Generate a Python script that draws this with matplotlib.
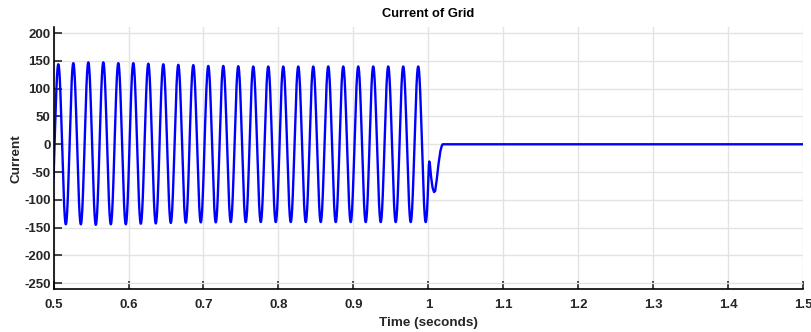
import numpy as np
import matplotlib.pyplot as plt

plt.rcParams['font.family'] = ['Liberation Sans', 'DejaVu Sans']
plt.rcParams['font.weight'] = 'bold'
plt.rcParams['axes.unicode_minus'] = False

# grid current, 50 Hz
freq = 50.0
first_peak = 0.5064
t_break = 1.0
peaks = [144, 146, 147.5, 147.5, 146, 146, 145, 144, 143, 142.5, 141, 141, 140.5,
         140, 140, 140, 140, 140, 140, 140, 140, 140, 140, 140, 140]
troughs = [144, 144, 145, 144, 144, 143, 142.5, 141.5, 141, 140.5, 140.5, 140, 140,
           140, 140, 140, 140, 140, 140, 140, 140, 140, 140, 140, 140]

# transient after the breaker opens
trans_t = [1.0006, 1.0012, 1.0020, 1.0035, 1.0055, 1.0075, 1.0090, 1.0110,
           1.0135, 1.0160, 1.0178, 1.0190, 1.5]
trans_v = [-38, -31, -36, -58, -78, -86, -84, -65, -35, -12, -3, 0, 0]

xticks = [0.5, 0.6, 0.7, 0.8, 0.9, 1.0, 1.1, 1.2, 1.3, 1.4, 1.5]
xticklabels = ['0.5', '0.6', '0.7', '0.8', '0.9', '1', '1.1', '1.2', '1.3', '1.4', '1.5']
yticks = [-250, -200, -150, -100, -50, 0, 50, 100, 150, 200]

# build the steady-state part: each half cycle uses its own extremum
extrema = []
for p, q in zip(peaks, troughs):
    extrema += [p, -q]
t = np.linspace(0.5, t_break, 4000)
k = np.clip(np.round((t - first_peak) * 2 * freq).astype(int), 0, len(extrema) - 1)
amp = np.abs(np.array(extrema)[k])
i = amp * np.cos(2 * np.pi * freq * (t - first_peak))

t_all = np.concatenate([t, trans_t])
i_all = np.concatenate([i, trans_v])

fig = plt.figure(figsize=(8.11, 3.32), dpi=100)
ax = fig.add_axes([0.066, 0.1286, 0.9245, 0.79])
ax.plot(t_all, i_all, color='#0000ff', lw=1.7)

ax.set_xlim(0.5, 1.5)
ax.set_ylim(-261, 211)
ax.set_xticks(xticks)
ax.set_xticklabels(xticklabels)
ax.set_yticks(yticks)
ax.grid(True, color='#e3e3e3', lw=1)
ax.set_axisbelow(True)
for s in ['top', 'right']:
    ax.spines[s].set_visible(False)
for s in ['left', 'bottom']:
    ax.spines[s].set_linewidth(1.2)
ax.tick_params(direction='in', length=6, width=1.2, labelsize=9.5, colors='#262626')
ax.tick_params(axis='x', pad=7)
ax.tick_params(axis='y', pad=2)

ax.set_title('Current of Grid', fontsize=9.3, fontweight='bold', pad=7)
ax.set_xlabel('Time (seconds)', fontsize=9.7, fontweight='bold', labelpad=4, color='#262626')
ax.set_ylabel('Current', fontsize=9.7, fontweight='bold', labelpad=1, color='#262626')

fig.savefig('out.png', dpi=100)
